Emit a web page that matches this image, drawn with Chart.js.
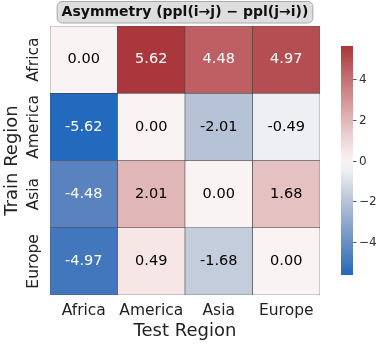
<!DOCTYPE html>
<html>
<head>
<meta charset="utf-8">
<script src="https://cdn.jsdelivr.net/npm/chart.js@4"></script>
<style>
  html, body { margin: 0; padding: 0; background: #fff; }
  #wrap { width: 381px; height: 346px; }
</style>
</head>
<body>
<div id="wrap"><canvas id="heat"></canvas></div>
<script>
const testRegions = ['Africa', 'America', 'Asia', 'Europe'];
const trainRegions = ['Africa', 'America', 'Asia', 'Europe'];
const africaRow = [0.00, 5.62, 4.48, 4.97];
const americaRow = [-5.62, 0.00, -2.01, -0.49];
const asiaRow = [-4.48, 2.01, 0.00, 1.68];
const europeRow = [-4.97, 0.49, -1.68, 0.00];
const colorbarTicks = [-4, -2, 0, 2, 4];
const rows = [africaRow, americaRow, asiaRow, europeRow];
const vmax = 5.62;

const FONT = "'DejaVu Sans', sans-serif";

// rough vlag colormap
const stops = [
  [0.00, [35, 105, 189]],
  [0.10, [88, 130, 190]],
  [0.32, [182, 195, 214]],
  [0.456, [238, 239, 242]],
  [0.50, [249, 243, 243]],
  [0.55, [245, 228, 228]],
  [0.68, [224, 182, 182]],
  [0.90, [190, 95, 98]],
  [1.00, [169, 55, 59]]
];
function cmap(v) {
  let t = (v + vmax) / (2 * vmax);
  t = Math.max(0, Math.min(1, t));
  for (let i = 1; i < stops.length; i++) {
    if (t <= stops[i][0]) {
      const [t0, c0] = stops[i - 1], [t1, c1] = stops[i];
      const f = (t - t0) / (t1 - t0);
      const c = c0.map((a, k) => Math.round(a + (c1[k] - a) * f));
      return `rgb(${c[0]},${c[1]},${c[2]})`;
    }
  }
  return 'rgb(169,55,59)';
}

const datasets = rows.map((row, r) => ({
  label: trainRegions[r],
  data: row.map(() => [r, r + 1]),
  backgroundColor: ctx => cmap(rows[r][ctx.dataIndex]),
  borderColor: 'rgba(30,30,30,0.8)',
  borderWidth: 0.6,
  borderSkipped: false,
  barPercentage: 1,
  categoryPercentage: 1,
  grouped: false
}));

const decor = {
  id: 'decor',
  afterDatasetsDraw(chart) {
    const ctx = chart.ctx;
    const xs = chart.scales.x, ys = chart.scales.y;
    ctx.save();
    ctx.textAlign = 'center';
    ctx.textBaseline = 'middle';
    // cell values
    ctx.font = '14.5px ' + FONT;
    chart.data.datasets.forEach((ds, r) => {
      chart.getDatasetMeta(r).data.forEach((bar, c) => {
        const v = rows[r][c];
        ctx.fillStyle = Math.abs(v) > 4 ? '#fff' : '#000';
        ctx.fillText(v.toFixed(2), bar.x, (bar.y + bar.base) / 2);
      });
    });
    // x tick labels
    ctx.fillStyle = '#222';
    ctx.font = '15.5px ' + FONT;
    testRegions.forEach((lab, i) => {
      ctx.fillText(lab, xs.getPixelForValue(i), 311);
    });
    ctx.font = '18px ' + FONT;
    ctx.fillText('Test Region', (chart.chartArea.left + chart.chartArea.right) / 2, 331);
    // y tick labels (vertical)
    ctx.font = '15.5px ' + FONT;
    trainRegions.forEach((lab, i) => {
      ctx.save();
      ctx.translate(34, ys.getPixelForValue(i + 0.5));
      ctx.rotate(-Math.PI / 2);
      ctx.fillText(lab, 0, 0);
      ctx.restore();
    });
    ctx.save();
    ctx.font = '18px ' + FONT;
    ctx.translate(12, (chart.chartArea.top + chart.chartArea.bottom) / 2);
    ctx.rotate(-Math.PI / 2);
    ctx.fillText('Train Region', 0, 0);
    ctx.restore();

    // colorbar
    const cbX = 341, cbW = 12, cbTop = 46, cbBot = 275;
    const cbMid = (cbTop + cbBot) / 2;
    const pxPer = (cbBot - cbTop) / (2 * vmax);
    for (let y = cbTop; y < cbBot; y++) {
      const v = (cbMid - (y + 0.5)) / pxPer;
      ctx.fillStyle = cmap(v);
      ctx.fillRect(cbX, y, cbW, 1);
    }
    ctx.strokeStyle = '#333';
    ctx.fillStyle = '#333';
    ctx.lineWidth = 0.8;
    ctx.font = '12px ' + FONT;
    ctx.textAlign = 'left';
    colorbarTicks.forEach(t => {
      const y = Math.round(cbMid - t * pxPer) + 0.5;
      ctx.beginPath();
      ctx.moveTo(cbX + cbW, y);
      ctx.lineTo(cbX + cbW + 3.5, y);
      ctx.stroke();
      ctx.fillText((t < 0 ? '\u2212' : '') + Math.abs(t), cbX + cbW + 6, y);
    });

    // title box
    const title = 'Asymmetry (ppl(i\u2192j) \u2212 ppl(j\u2192i))';
    ctx.font = 'bold 14px ' + FONT;
    const w = ctx.measureText(title).width;
    const cx = 185, cy = 12;
    ctx.beginPath();
    ctx.roundRect(cx - w / 2 - 4.5, 1.5, w + 9, 21.5, 5);
    ctx.fillStyle = '#dedede';
    ctx.fill();
    ctx.strokeStyle = '#aaa';
    ctx.lineWidth = 1;
    ctx.stroke();
    ctx.fillStyle = '#111';
    ctx.textAlign = 'center';
    ctx.fillText(title, cx, cy + 0.5);
    ctx.restore();
  }
};

new Chart(document.getElementById('heat'), {
  type: 'bar',
  data: { labels: testRegions, datasets: datasets },
  options: {
    responsive: true,
    maintainAspectRatio: false,
    animation: false,
    layout: { padding: { left: 50, top: 26, right: 61, bottom: 51 } },
    plugins: {
      legend: { display: false },
      tooltip: { enabled: false }
    },
    scales: {
      x: { type: 'category', display: false, offset: true },
      y: { type: 'linear', display: false, min: 0, max: 4, reverse: true }
    }
  },
  plugins: [decor]
});
</script>
</body>
</html>
